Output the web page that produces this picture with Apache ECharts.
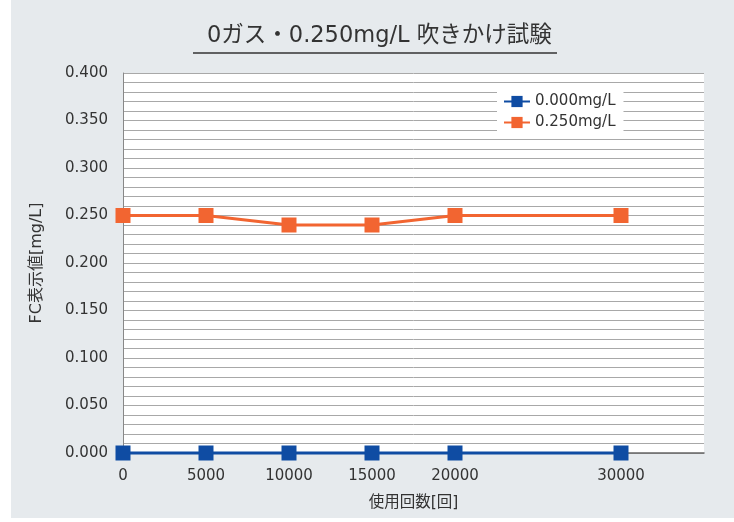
<!DOCTYPE html>
<html><head><meta charset="utf-8">
<script src="https://cdn.jsdelivr.net/npm/echarts@6/dist/echarts.min.js"></script>
<style>html,body{margin:0;padding:0;background:#fff;}#c{position:absolute;left:11px;top:0;width:723px;height:518px;}</style>
</head><body><div id="c"></div>
<script>
const xValues = [0, 5000, 10000, 15000, 20000, 30000];
const seriesNames = ['0.000mg/L', '0.250mg/L'];
const values000 = [0, 0, 0, 0, 0, 0];
const values250 = [0.25, 0.25, 0.24, 0.24, 0.25, 0.25];
const xLabels = ['0', '5000', '10000', '15000', '20000', '30000'];
const yLabels = ['0.000','0.050','0.100','0.150','0.200','0.250','0.300','0.350','0.400'];
const titleText = '0ガス・0.250mg/L 吹きかけ試験';
const xName = '使用回数[回]';
const yName = 'FC表示値[mg/L]';

const font = '"DejaVu Sans", "Noto Sans CJK JP", sans-serif';
const chart = echarts.init(document.getElementById('c'));
const mk = (name, vals, color) => ({
  name, type: 'line', data: xValues.map((x, i) => [x, vals[i]]),
  symbol: 'rect', symbolSize: 15, lineStyle: {width: 3, color}, itemStyle: {color},
  z: 5, clip: false
});
chart.setOption({
  backgroundColor: '#e6eaed',
  textStyle: {fontFamily: font},
  animation: false,
  title: {text: titleText, left: 196, top: 25, padding: 0, textStyle: {fontFamily: font, fontSize: 22.5, fontWeight: 'normal', color: '#333'}},
  graphic: [{type: 'line', shape: {x1: 182, y1: 53, x2: 546, y2: 53}, style: {stroke: '#333', lineWidth: 1.5}}],
  legend: {
    orient: 'vertical', left: 486, top: 91, padding: [3, 8, 3, 6], itemGap: 6,
    backgroundColor: '#fff', itemWidth: 26, itemHeight: 14,
    textStyle: {fontFamily: font, fontSize: 15, color: '#333'},
    data: seriesNames
  },
  grid: {left: 112, right: 30, top: 73, bottom: 65, containLabel: false},
  xAxis: {
    type: 'value', min: 0, max: 35000, interval: 5000,
    name: xName, nameLocation: 'middle', nameGap: 42,
    nameTextStyle: {fontFamily: font, fontSize: 15.5, color: '#333'},
    axisLine: {show: true, lineStyle: {color: '#666', width: 1.5}},
    axisTick: {show: false}, splitLine: {show: false},
    axisLabel: {fontFamily: font, fontSize: 15, color: '#333', margin: 16,
      formatter: v => { const i = xValues.indexOf(v); return i >= 0 ? xLabels[i] : ''; }}
  },
  yAxis: {
    type: 'value', min: 0, max: 0.4, interval: 0.05,
    name: yName, nameLocation: 'middle', nameGap: 78, nameRotate: 90,
    nameTextStyle: {fontFamily: font, fontSize: 16, color: '#333'},
    axisLine: {show: true, lineStyle: {color: '#888', width: 1}},
    axisTick: {show: false},
    axisLabel: {fontFamily: font, fontSize: 15, color: '#333', margin: 15,
      formatter: v => yLabels[Math.round(v / 0.05)]},
    splitLine: {show: true, lineStyle: {color: '#a8a8a8', width: 1}},
    minorTick: {show: false, splitNumber: 5},
    minorSplitLine: {show: true, lineStyle: {color: '#a8a8a8', width: 1}},
    splitArea: {show: true, areaStyle: {color: ['#fff', '#fff']}}
  },
  series: [mk(seriesNames[0], values000, '#0f4ca3'), mk(seriesNames[1], values250, '#f26531')]
});
</script></body></html>
